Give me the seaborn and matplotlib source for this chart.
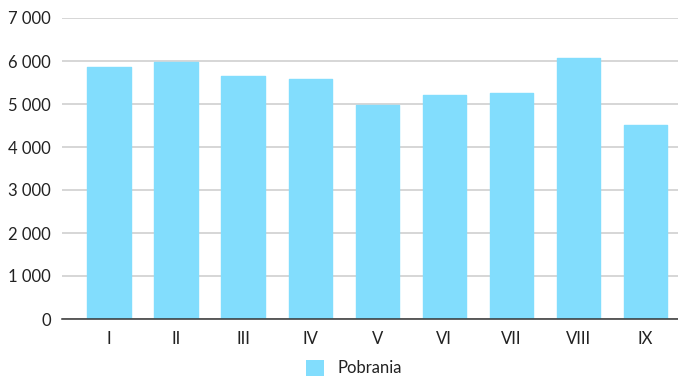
import matplotlib
matplotlib.use("Agg")
import matplotlib.pyplot as plt
from matplotlib.patches import Patch
from matplotlib.ticker import FuncFormatter
import seaborn as sns
import pandas as pd

months = ["I", "II", "III", "IV", "V", "VI", "VII", "VIII", "IX"]
downloads = [5850, 5970, 5650, 5570, 4980, 5210, 5250, 6070, 4520]
series_name = "Pobrania"
y_ticks = [0, 1000, 2000, 3000, 4000, 5000, 6000, 7000]

bar_color = "#82DDFD"

sns.set_theme(style="white")
plt.rcParams["font.family"] = ["Lato", "DejaVu Sans"]

df = pd.DataFrame({"miesiac": months, "pobrania": downloads})

fig = plt.figure(figsize=(6.78, 3.76), dpi=100)
ax = fig.add_axes([62 / 678, 1 - 319 / 376, 1 - 62 / 678, (319 - 18) / 376])

sns.barplot(data=df, x="miesiac", y="pobrania", color=bar_color,
            saturation=1, width=0.645, ax=ax, zorder=3,
            edgecolor=bar_color, linewidth=1.0)

# soft, rounded corners on every bar
for p in ax.patches:
    p.set_joinstyle("round")

ax.set_ylim(0, 7000)
ax.set_xlim(-0.70, 8.485)
ax.set_yticks(y_ticks)
ax.yaxis.set_major_formatter(FuncFormatter(lambda v, _: f"{int(v):,}".replace(",", " ")))
ax.grid(axis="y", color="#cccccc", linewidth=1.1, zorder=0)
ax.grid(axis="x", visible=False)
ax.set_axisbelow(True)

for side in ["top", "right", "left"]:
    ax.spines[side].set_visible(False)
ax.spines["bottom"].set_color("#333333")
ax.spines["bottom"].set_linewidth(1.1)
ax.spines["bottom"].set_zorder(4)

ax.tick_params(axis="both", length=0, labelsize=12, colors="#222222")
ax.tick_params(axis="y", pad=8)
ax.tick_params(axis="x", pad=9)
ax.set_xlabel("")
ax.set_ylabel("")

handle = Patch(facecolor=bar_color, edgecolor="none")
fig.legend([handle], [series_name], loc="center", bbox_to_anchor=(0.522, 1 - 368 / 376),
           frameon=False, fontsize=12, handlelength=1.1, handleheight=1.1,
           handletextpad=0.8, labelcolor="#222222")

fig.savefig("out.png", dpi=100)
